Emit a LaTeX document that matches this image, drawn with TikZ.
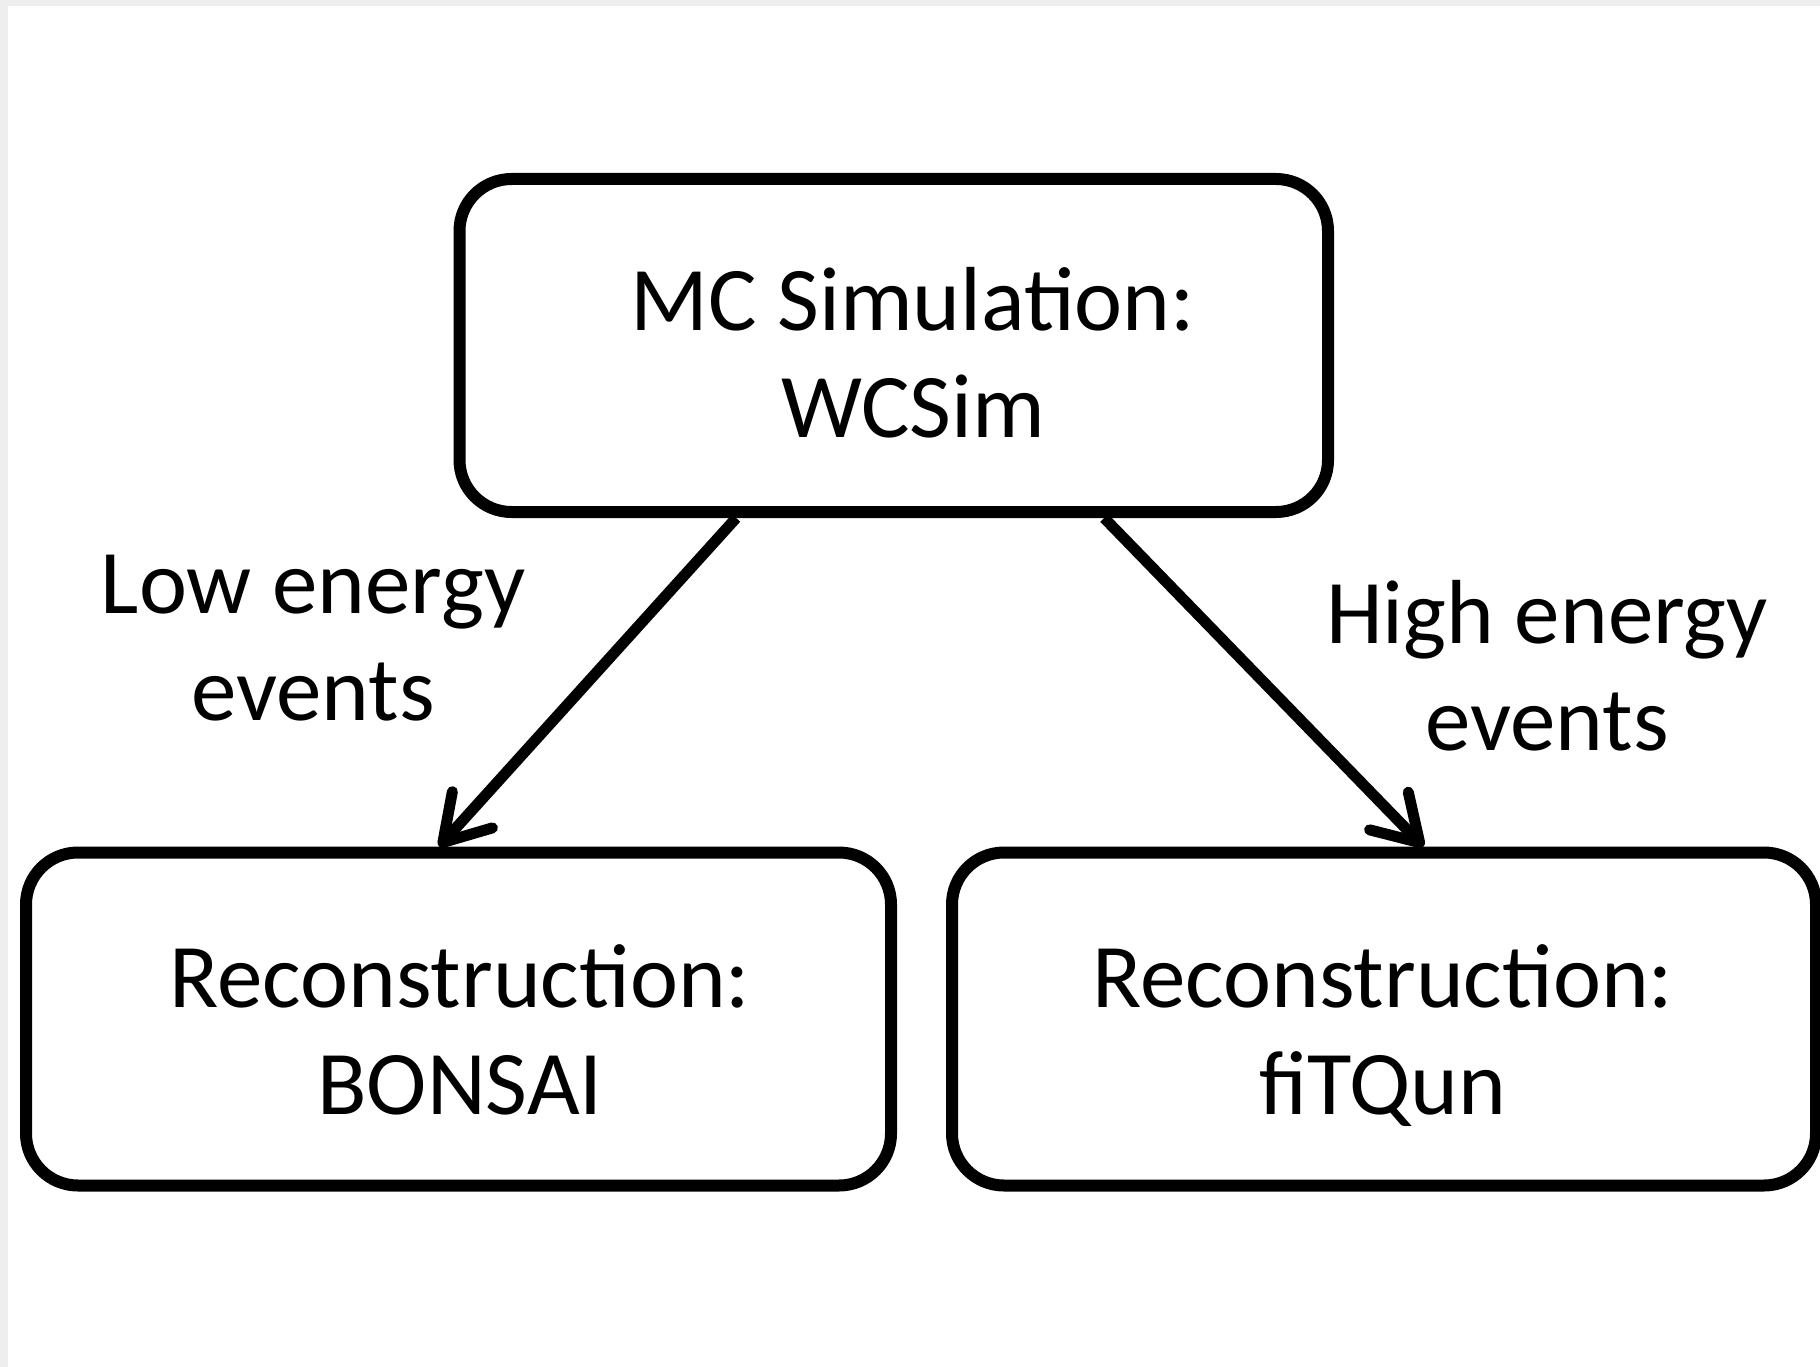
\documentclass[tikz,border=0pt]{standalone}
\usepackage{fontspec}
\setmainfont{Carlito}
\usetikzlibrary{arrows.meta,calc}
\definecolor{edgegray}{HTML}{EEEEEE}
\begin{document}
\begin{tikzpicture}[x=1pt,y=-1pt,
  box/.style={draw=black, line width=12pt, rounded corners=52pt, fill=white, inner sep=0pt},
  txt/.style={font=\fontsize{91}{107}\selectfont, align=center, inner sep=0pt, anchor=base},
  flow/.style={line width=11pt, -{Straight Barb[length=44pt, width=54pt, round]}}]
% page with a thin grey margin on the top and left
\fill[edgegray] (0,0) rectangle (1820,1367);
\fill[white] (8,6) rectangle (1820,1367);
\useasboundingbox (0,0) rectangle (1820,1367);

% boxes
\node[box, minimum width=868.5pt, minimum height=333pt] (sim) at (893.75,345.5) {};
\node[box, minimum width=865pt, minimum height=333pt] (bonsai) at (458.5,1019) {};
\node[box, minimum width=864pt, minimum height=333pt] (fitqun) at (1384,1019) {};

% box texts (anchored on the baseline of the last line)
\node[txt] (simtxt) at (913,437) {MC Simulation:\\WCSim};
\node[txt] (bonsaitxt) at (460,1114) {Reconstruction:\\BONSAI};
\node[txt] (fitquntxt) at (1383,1114) {Reconstruction:\\fiTQun};

% connectors
\draw[flow] ($(sim.south west)!0.321!(sim.south east)$) -- ($(bonsai.north west)!0.478!(bonsai.north east)$);
\draw[flow] ($(sim.south west)!0.739!(sim.south east)$) -- ($(fitqun.north west)!0.545!(fitqun.north east)$);

% connector labels
\node[txt] (lowlbl) at (313,720) {Low energy\\events};
\node[txt] (highlbl) at (1547,750) {High energy\\events};
\end{tikzpicture}
\end{document}
